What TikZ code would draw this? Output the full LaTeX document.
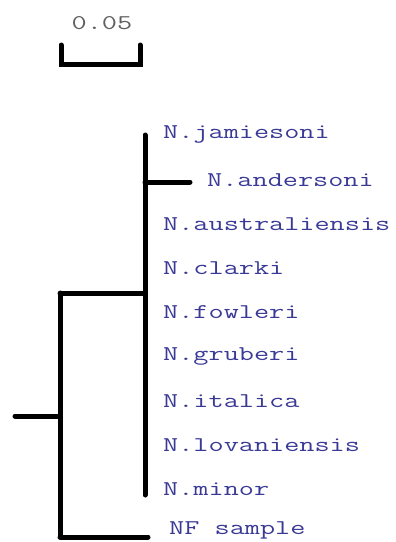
\documentclass[tikz,border=0pt]{standalone}
\usepackage{fontspec}
\definecolor{taxonblue}{RGB}{58,58,150}
\definecolor{scalegray}{RGB}{95,95,95}
\newcommand\widelabel[1]{\scalebox{1.4}[1]{#1}}
\tikzset{
  branch/.style={line width=5pt, line cap=round, line join=miter},
  taxon/.style={anchor=west, inner sep=0pt, text=taxonblue,
    font=\ttfamily\fontsize{21}{23}\selectfont}
}

\begin{document}
\begin{tikzpicture}[x=1pt, y=-1pt]
			\useasboundingbox (0,0) rectangle (396,542);
			% scale bar
			\path
			(61,45) coordinate (S1)
			(61,64) coordinate (S2)
			(140,64) coordinate (S3)
			(140,45) coordinate (S4)
			;
			\draw[branch] (S1)--(S2)--(S3)--(S4);
			\node[taxon, anchor=center, text=scalegray] (scale) at (102,23) {\widelabel{0.05}};
			% taxa
			\foreach \n/\x/\y/\t in {jam/163/134/N.jamiesoni, and/207/180/N.andersoni,
				aus/163/224/N.australiensis, cla/163/268/N.clarki, fow/163/312/N.fowleri,
				gru/163/356/N.gruberi, ita/163/401/N.italica, lov/163/445/N.lovaniensis,
				min/163/489/N.minor, nf/169/530/NF sample}
				\node[taxon] (\n) at (\x,\y) {\widelabel{\t}};
			% internal nodes
			\path
			(15,416) coordinate (root)
			(60,416) coordinate (R)
			(60,293) coordinate (Rt)
			(60,537) coordinate (Rb)
			(145,293) coordinate (I)
			(145,135) coordinate (It)
			(145,495) coordinate (Ib)
			(145,182) coordinate (Ia)
			;
			\draw[branch]
			(root)--(R) (Rt)--(Rb)
			(Rt)--(I) (It)--(Ib)
			(Ia)--([xshift=-17pt]and.west|-Ia)
			(Rb)--([xshift=-21pt]nf.west|-Rb)
			;
		\end{tikzpicture}
\end{document}
